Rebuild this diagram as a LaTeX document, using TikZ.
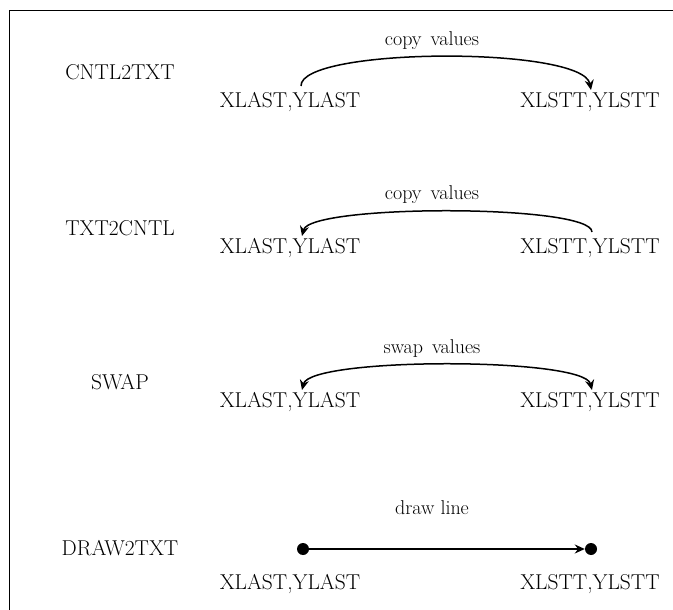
\documentclass[tikz,border=0pt]{standalone}
\usetikzlibrary{arrows.meta}
\begin{document}
\begin{tikzpicture}[x=1pt,y=-1pt,
  txt/.style={font=\fontsize{21.5}{24}\selectfont, inner sep=0pt, anchor=base},
  captxt/.style={font=\fontsize{20}{24}\selectfont, inner sep=0pt, anchor=base},
  conn/.style={line width=1.5pt},
  tip/.style={-{Stealth[length=10pt,width=9pt]}},
  bothtips/.style={{Stealth[length=10pt,width=9pt]}-{Stealth[length=10pt,width=9pt]}},
  dot/.style={circle, fill=black, inner sep=0pt, minimum size=12pt}]
\useasboundingbox (0,0) rectangle (673,610);
% open frame: top rule and left rule
\draw[line width=1.3pt] (673,10.5) -- (9.5,10.5) -- (9.5,610);

% ---- CNTL2TXT ----
\node[txt] (op1) at (120,80) {CNTL2TXT};
\node[captxt] (cap1) at (432,46) {copy\hspace{0.45em}values};
\node[txt] (last1) at (290,108) {XLAST,YLAST};
\node[txt] (lstt1) at (590,108) {XLSTT,YLSTT};
\coordinate (s1) at (301,86);
\coordinate (e1) at (591,90);
\draw[conn,tip] (s1) .. controls (300,47) and (583,46) .. (e1);

% ---- TXT2CNTL ----
\node[txt] (op2) at (120,235) {TXT2CNTL};
\node[captxt] (cap2) at (432,199) {copy\hspace{0.45em}values};
\node[txt] (last2) at (290,253) {XLAST,YLAST};
\node[txt] (lstt2) at (590,253) {XLSTT,YLSTT};
\coordinate (s2) at (592,232);
\coordinate (e2) at (302,236);
\draw[conn,tip] (s2) .. controls (592,204) and (310,204) .. (e2);

% ---- SWAP ----
\node[txt] (op3) at (120,389) {SWAP};
\node[captxt] (cap3) at (432,353) {swap\hspace{0.45em}values};
\node[txt] (last3) at (290,407) {XLAST,YLAST};
\node[txt] (lstt3) at (590,407) {XLSTT,YLSTT};
\coordinate (s3) at (302,390);
\coordinate (e3) at (592,390);
\draw[conn,bothtips] (s3) .. controls (310,357) and (584,357) .. (e3);

% ---- DRAW2TXT ----
\node[txt] (op4) at (120,555) {DRAW2TXT};
\node[captxt] (cap4) at (432,514) {draw line};
\node[txt] (last4) at (290,589) {XLAST,YLAST};
\node[txt] (lstt4) at (590,589) {XLSTT,YLSTT};
\node[dot] (d1) at (303,549) {};
\node[dot] (d2) at (591,549) {};
\draw[conn,tip] (d1.center) -- (d2.west);
\end{tikzpicture}
\end{document}
